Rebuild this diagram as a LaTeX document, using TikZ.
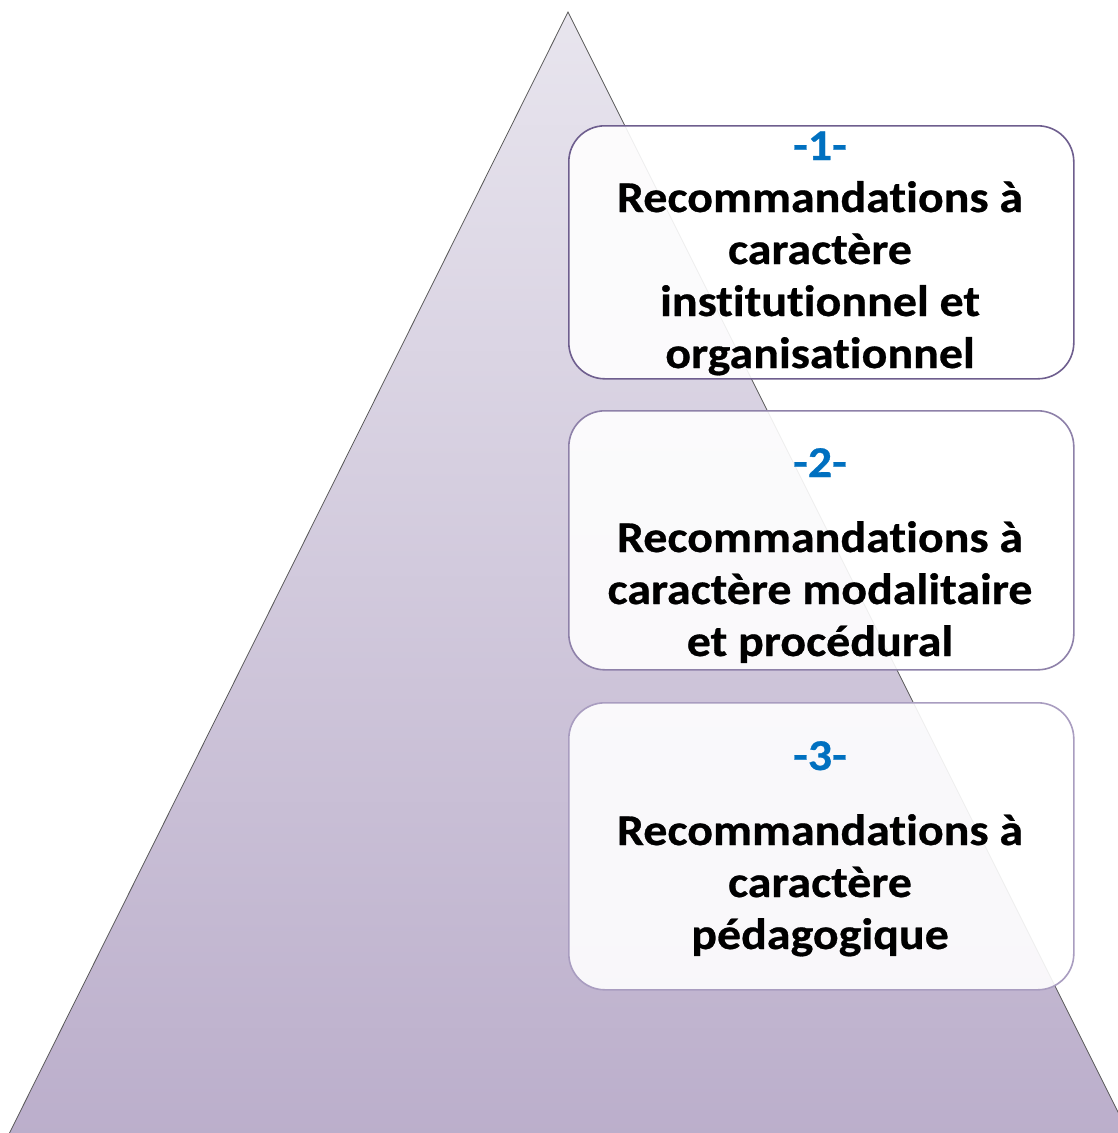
\documentclass[tikz,border=0pt]{standalone}
\usepackage{fontspec}
\setmainfont{Carlito}[Ligatures={TeX,NoCommon}, FakeStretch=1.09, BoldFeatures={FakeBold=0.6}]
\definecolor{pyrtop}{HTML}{E8E5EE}
\definecolor{pyrbot}{HTML}{BBAECB}
\definecolor{numblue}{HTML}{0070C0}
\definecolor{edgeA}{HTML}{6E5E8E}
\definecolor{edgeB}{HTML}{8E81A9}
\definecolor{edgeC}{HTML}{A99DC0}
\tikzset{
  card/.style={draw=#1, line width=1.6pt, rounded corners=36pt, fill=white, fill opacity=0.9,
    minimum width=505pt, inner sep=0pt, anchor=north west},
  numtext/.style={text=numblue, font=\bfseries\fontsize{44}{52}\selectfont, inner sep=0pt, anchor=base},
  bodytext/.style={text=black, font=\bfseries\fontsize{44}{52}\selectfont, inner sep=0pt, anchor=base}
}
\begin{document}
\begin{tikzpicture}[x=1pt,y=-1pt]
\useasboundingbox (0,0) rectangle (1118,1133);
% pyramid
\begin{scope}
\clip (0,0) rectangle (1118,1133);
\shade[top color=pyrtop, bottom color=pyrbot, draw=black!65, line width=0.8pt]
  (568,12) coordinate (apex) -- (6,1140) coordinate (baseL) -- (1132,1140) coordinate (baseR) -- cycle;
\end{scope}
% cards
\node[card=edgeA, minimum height=253pt] (c1) at (568,125) {};
\node[card=edgeB, minimum height=259pt] (c2) at (568,410) {};
\node[card=edgeC, minimum height=287pt] (c3) at (568,702) {};
% card 1 text (baselines)
\node[numtext]  (n1) at (820,160) {-1-};
\node[bodytext] (t1a) at (820,212) {Recommandations à};
\node[bodytext] (t1b) at (820,264) {caractère};
\node[bodytext] (t1c) at (820,316) {institutionnel et};
\node[bodytext] (t1d) at (820,368) {organisationnel};
% card 2 text
\node[numtext]  (n2) at (820,477) {-2-};
\node[bodytext] (t2a) at (820,552) {Recommandations à};
\node[bodytext] (t2b) at (820,604) {caractère modalitaire};
\node[bodytext] (t2c) at (820,656) {et procédural};
% card 3 text
\node[numtext]  (n3) at (820,770) {-3-};
\node[bodytext] (t3a) at (820,845) {Recommandations à};
\node[bodytext] (t3b) at (820,897) {caractère};
\node[bodytext] (t3c) at (820,949) {pédagogique};
\end{tikzpicture}
\end{document}
